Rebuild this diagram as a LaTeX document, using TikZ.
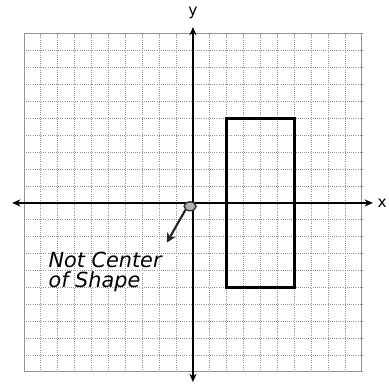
\documentclass[tikz,border=0pt]{standalone}
\usepackage{fontspec}
\setmainfont{DejaVu Sans}
\usetikzlibrary{arrows.meta,shapes.geometric}
\begin{document}
\begin{tikzpicture}[x=0.5cm,y=0.5cm,
  gridline/.style={gray!85, line width=0.8pt, densely dotted},
  axisline/.style={black, line width=1.5pt, -{Stealth[length=7pt,width=6pt]}},
  shapeline/.style={black, line width=2.3pt},
  axislabel/.style={font=\fontsize{13}{13}\selectfont},
  note/.style={font=\itshape\fontsize{17.5}{17}\selectfont, align=left, inner sep=1pt}]
\useasboundingbox (-11.42,-11.07) rectangle (11.6,12.01);
\foreach \k in {-10,...,10} {
  \draw[gridline] (\k,-10) -- (\k,10);
  \draw[gridline] (-10,\k) -- (10,\k);
}
\draw[gray!85, line width=0.8pt] (-10,-10) rectangle (10,10);
\coordinate (xl) at (-10.7,0);
\coordinate (xr) at (10.65,0);
\coordinate (yb) at (0,-10.6);
\coordinate (yt) at (0,10.41);
\draw[axisline] (0,0) -- (xr);
\draw[axisline] (0,0) -- (xl);
\draw[axisline] (0,0) -- (yt);
\draw[axisline] (0,0) -- (yb);
\node[axislabel] (xlab) at (11.2,0) {x};
\node[axislabel] (ylab) at (0,11.25) {y};
\draw[shapeline] (2,-5) rectangle (6,5);
\node[ellipse, draw=black!80, fill=gray!60, line width=1.2pt, minimum width=10pt, minimum height=7.5pt, inner sep=0pt] (dot) at (-0.17,-0.2) {};
\node[note] (txt) at (-5.2,-4.1) {Not Center\\of Shape};
\coordinate (tip) at (-1.55,-2.35);
\draw[black!85, line width=1.8pt, -{Stealth[length=8pt,width=8pt]}] (dot.south west) -- (tip);
\end{tikzpicture}
\end{document}
